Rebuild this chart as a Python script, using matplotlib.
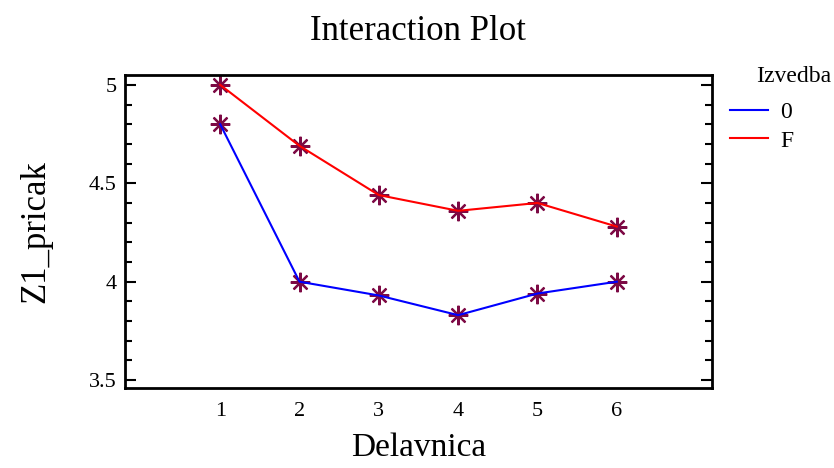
import matplotlib
matplotlib.use("Agg")
import matplotlib.pyplot as plt
from matplotlib.ticker import MultipleLocator

plt.rcParams['font.family'] = ['Liberation Serif', 'DejaVu Serif']

# data
delavnica = [1, 2, 3, 4, 5, 6]
izvedba_0 = [4.80, 4.00, 3.93, 3.83, 3.94, 4.00]
izvedba_F = [5.00, 4.69, 4.44, 4.36, 4.40, 4.28]
series_names = ['0', 'F']
series_colors = ['#0000ff', '#ff0000']

fig = plt.figure(figsize=(8.34, 4.68), dpi=100)
ax = fig.add_axes([125/834, 80/468, 587/834, 313/468])

asterisk = (8, 2, 0)
handles = []
for vals, name, col in zip([izvedba_0, izvedba_F], series_names, series_colors):
    ax.plot(delavnica, vals, ls='none', marker=asterisk, ms=14, mew=1.6,
            color='#7d0a45', zorder=2)
    h, = ax.plot(delavnica, vals, color=col, lw=1.5, label=name, zorder=3)
    handles.append(h)

ax.set_xlim(-0.2, 7.2)
ax.set_ylim(3.46, 5.05)
ax.set_xticks(delavnica)
ax.yaxis.set_major_locator(MultipleLocator(0.5))
ax.yaxis.set_minor_locator(MultipleLocator(0.1))
ax.yaxis.set_major_formatter(plt.FuncFormatter(lambda v, p: f'{v:g}'))

ax.tick_params(axis='y', which='major', direction='in', length=8, width=1.5,
               left=True, right=True, labelsize=16, pad=6)
ax.tick_params(axis='y', which='minor', direction='in', length=5, width=1.5,
               left=True, right=True)
ax.tick_params(axis='x', length=0, labelsize=16, pad=10)
for sp in ax.spines.values():
    sp.set_linewidth(2)

ax.set_title('Interaction Plot', fontsize=25, pad=25)
ax.set_xlabel('Delavnica', fontsize=24, labelpad=8)
ax.set_ylabel('Z1_pricak', fontsize=25, labelpad=26)

fig.text(831/834, 1 - 77/468, 'Izvedba', ha='right', va='center', fontsize=17)
ax.legend(handles, series_names, loc='upper left',
          bbox_to_anchor=(721/834, 1 - 92/468), bbox_transform=fig.transFigure,
          frameon=False, fontsize=17, handlelength=1.6, handletextpad=0.5,
          labelspacing=0.3, borderaxespad=0)

fig.savefig('out.png', dpi=100)
